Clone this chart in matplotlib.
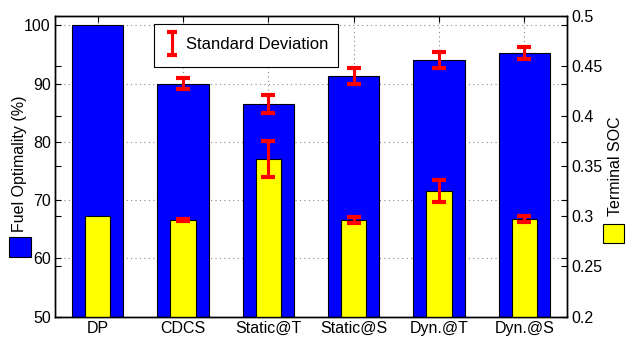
import matplotlib
matplotlib.use('Agg')
import matplotlib.pyplot as plt
from matplotlib.patches import Rectangle
from matplotlib.lines import Line2D

plt.rcParams['font.family'] = ['Liberation Sans', 'DejaVu Sans']
plt.rcParams['font.size'] = 11.5

# Datos por estrategia
strategies = ['DP', 'CDCS', 'Static@T', 'Static@S', 'Dyn.@T', 'Dyn.@S']
fuel_opt = [100.0, 90.0, 86.5, 91.3, 94.1, 95.3]
fuel_std = [0.0, 0.9, 1.6, 1.4, 1.4, 1.0]
term_soc = [0.300, 0.296, 0.357, 0.296, 0.325, 0.297]
soc_std = [0.0, 0.0012, 0.0175, 0.003, 0.011, 0.003]

x = list(range(1, len(strategies) + 1))

W, H = 627.0, 341.0
fig = plt.figure(figsize=(6.27, 3.41), dpi=100)
ax = fig.add_axes([0.0877, 0.0718, 0.8166, 0.8827])
ax2 = ax.twinx()

# Barras de optimalidad (eje izquierdo)
ax.bar(x, fuel_opt, width=0.6, color='#0000ff', edgecolor='black', linewidth=0.8, zorder=2)
ax.errorbar(x[1:], fuel_opt[1:], yerr=fuel_std[1:], fmt='none', ecolor='#ff0000',
            elinewidth=2.2, capsize=4.8, capthick=3, zorder=3)

# Barras de SOC terminal (eje derecho)
ax2.bar(x, term_soc, width=0.3, color='#ffff00', edgecolor='black', linewidth=0.8, zorder=2)
ax2.errorbar(x[1:], term_soc[1:], yerr=soc_std[1:], fmt='none', ecolor='#ff0000',
             elinewidth=2.2, capsize=4.8, capthick=3, zorder=3)

ax.set_xlim(0.5, 6.5)
ax.set_ylim(50, 101.7)
ax.set_yticks([50, 60, 70, 80, 90, 100])
ax.set_xticks(x)
ax.set_xticklabels(strategies)
ax2.set_ylim(0.2, 0.5)
ax2.set_yticks([0.2, 0.25, 0.3, 0.35, 0.4, 0.45, 0.5])
ax2.set_yticklabels(['0.2', '0.25', '0.3', '0.35', '0.4', '0.45', '0.5'])

ax.grid(True, linestyle=(0, (1, 3)), color='#888888', linewidth=0.8)
ax.set_axisbelow(True)

ax.tick_params(direction='in', top=True, right=True, length=4, pad=3)
ax2.tick_params(direction='in', left=True, length=4, pad=3)
for a in (ax, ax2):
    for s in a.spines.values():
        s.set_linewidth(1.0)

# Leyenda de la desviacion estandar (dibujada a mano)
def fx(px):
    return px / W

def fy(py):
    return (H - py) / H

fig.add_artist(Rectangle((fx(154), fy(66.7)), fx(338) - fx(154), fy(23.7) - fy(66.7),
                         facecolor='white', edgecolor='black', linewidth=0.8,
                         transform=fig.transFigure, zorder=5))
fig.add_artist(Line2D([fx(171.5), fx(171.5)], [fy(32), fy(55)], color='#ff0000',
                      linewidth=2.2, transform=fig.transFigure, zorder=6))
for cy in (32, 55):
    fig.add_artist(Line2D([fx(166.5), fx(176.5)], [fy(cy), fy(cy)], color='#ff0000',
                          linewidth=3, solid_capstyle='butt',
                          transform=fig.transFigure, zorder=6))
fig.text(fx(186), fy(44.5), 'Standard Deviation', fontsize=12, ha='left',
         va='center', zorder=7)

# Etiquetas de ejes con muestra de color
fig.text(fx(20), fy(163.5), 'Fuel Optimality (%)', rotation=90,
         ha='center', va='center')
fig.add_artist(Rectangle((fx(9), fy(257)), fx(31) - fx(9), fy(237) - fy(257),
                         facecolor='#0000ff', edgecolor='black', linewidth=0.8,
                         transform=fig.transFigure))
fig.text(fx(615), fy(166), 'Terminal SOC', rotation=90,
         ha='center', va='center')
fig.add_artist(Rectangle((fx(603), fy(243)), fx(624) - fx(603), fy(224) - fy(243),
                         facecolor='#ffff00', edgecolor='black', linewidth=0.8,
                         transform=fig.transFigure))

fig.savefig('out.png', dpi=100)
